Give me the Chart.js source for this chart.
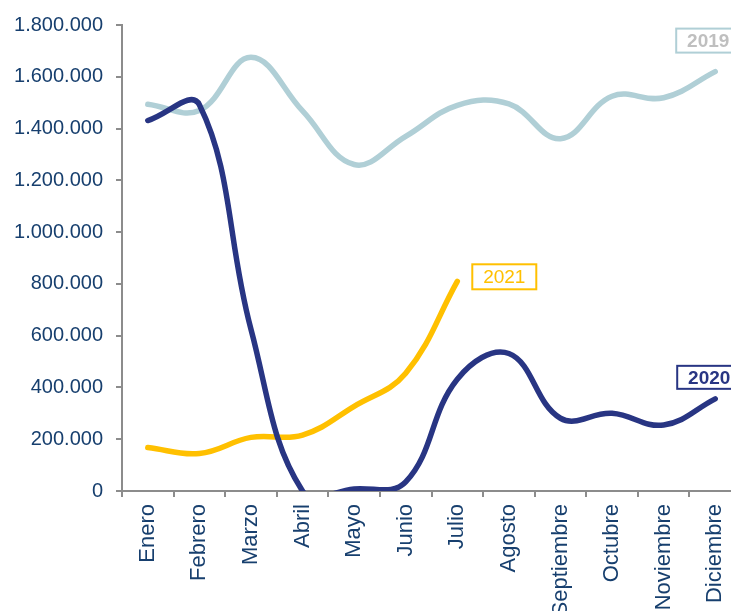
<!DOCTYPE html>
<html>
<head>
<meta charset="utf-8">
<script src="https://cdn.jsdelivr.net/npm/chart.js@4/dist/chart.umd.min.js"></script>
<style>
  html, body { margin: 0; padding: 0; background: #fff; overflow: hidden; }
  #wrap { position: relative; width: 741px; height: 611px; }
</style>
</head>
<body>
<div id="wrap"><canvas id="chart"></canvas></div>
<script>
// meses
const meses = ["Enero", "Febrero", "Marzo", "Abril", "Mayo", "Junio", "Julio",
  "Agosto", "Septiembre", "Octubre", "Noviembre", "Diciembre"];

// valores
const datos2019 = [1494000, 1470000, 1675000, 1468000, 1261000, 1370000,
  1490000, 1495000, 1361000, 1525000, 1519000, 1620000];
const datos2020 = [1431000, 1492000, 625000, 0, 8000, 35000,
  432000, 531000, 281000, 300000, 255000, 356000];
const datos2021 = [168000, 145000, 207000, 216000, 327000, 455000, 810000];

const yMin = 0;
const yMax = 1800000;
const yPaso = 200000;

const azulTexto = "#173f6e";
const gris = "#8c8c8c";

function formato(v) {
  return v.toString().replace(/\B(?=(\d{3})+(?!\d))/g, ".");
}

// etiquetas con recuadro al final de cada serie
const etiquetas = {
  id: "etiquetas",
  afterDatasetsDraw(chart) {
    const ctx = chart.ctx;
    const cajas = [
      { ds: 0, texto: "2019", dx: -39, dy: -43, w: 64, h: 24, borde: "#b0cfd6", color: "#bfbfbf", bold: true },
      { ds: 1, texto: "2020", dx: -38, dy: -33, w: 64, h: 23, borde: "#283583", color: "#283583", bold: true },
      { ds: 2, texto: "2021", dx: 15, dy: -17, w: 64, h: 25, borde: "#ffc000", color: "#ffc000", bold: false }
    ];
    ctx.save();
    cajas.forEach(c => {
      const pts = chart.getDatasetMeta(c.ds).data;
      const p = pts[pts.length - 1];
      const x = p.x + c.dx, y = p.y + c.dy;
      ctx.fillStyle = "#fff";
      ctx.fillRect(x, y, c.w, c.h);
      ctx.lineWidth = 2;
      ctx.strokeStyle = c.borde;
      ctx.strokeRect(x, y, c.w, c.h);
      ctx.fillStyle = c.color;
      ctx.font = (c.bold ? "bold " : "") + "19px 'Liberation Sans', Arial, sans-serif";
      ctx.textAlign = "center";
      ctx.textBaseline = "middle";
      ctx.fillText(c.texto, x + c.w / 2, y + c.h / 2 + 1);
    });
    ctx.restore();
  }
};

const linea = (label, data, color, orden) => ({
  label: label,
  data: data,
  borderColor: color,
  backgroundColor: color,
  borderWidth: 5.5,
  pointRadius: 0,
  tension: 0.4,
  capBezierPoints: false,
  borderCapStyle: "round",
  borderJoinStyle: "round",
  fill: false,
  order: orden
});

new Chart(document.getElementById("chart"), {
  type: "line",
  data: {
    labels: meses,
    datasets: [
      linea("2019", datos2019, "#b0cfd6", 2),
      linea("2020", datos2020, "#283583", 0),
      linea("2021", datos2021, "#ffc000", 1)
    ]
  },
  options: {
    responsive: true,
    maintainAspectRatio: false,
    animation: false,
    layout: { padding: { top: 21, left: 0, right: 0, bottom: 0 } },
    elements: { line: { capBezierPoints: false } },
    plugins: {
      legend: { display: false },
      tooltip: { enabled: false }
    },
    scales: {
      x: {
        offset: true,
        grid: {
          offset: true,
          drawOnChartArea: false,
          drawTicks: true,
          tickLength: 6,
          color: gris,
          lineWidth: 2
        },
        border: { color: gris, width: 2 },
        ticks: {
          color: azulTexto,
          font: { family: "'Liberation Sans', Arial, sans-serif", size: 22 },
          minRotation: 90,
          maxRotation: 90,
          autoSkip: false,
          padding: 7
        },
        afterFit(scale) {
          scale.height = 120;
          scale.paddingLeft = 0;
          scale.paddingRight = 0;
        }
      },
      y: {
        min: yMin,
        max: yMax,
        grid: {
          drawOnChartArea: false,
          drawTicks: true,
          tickLength: 6,
          color: gris,
          lineWidth: 2
        },
        border: { color: gris, width: 2 },
        ticks: {
          stepSize: yPaso,
          color: azulTexto,
          font: { family: "'Liberation Sans', Arial, sans-serif", size: 20 },
          padding: 13,
          callback: v => formato(v)
        },
        afterFit(scale) { scale.width = 122; }
      }
    }
  },
  plugins: [etiquetas]
});
</script>
</body>
</html>
